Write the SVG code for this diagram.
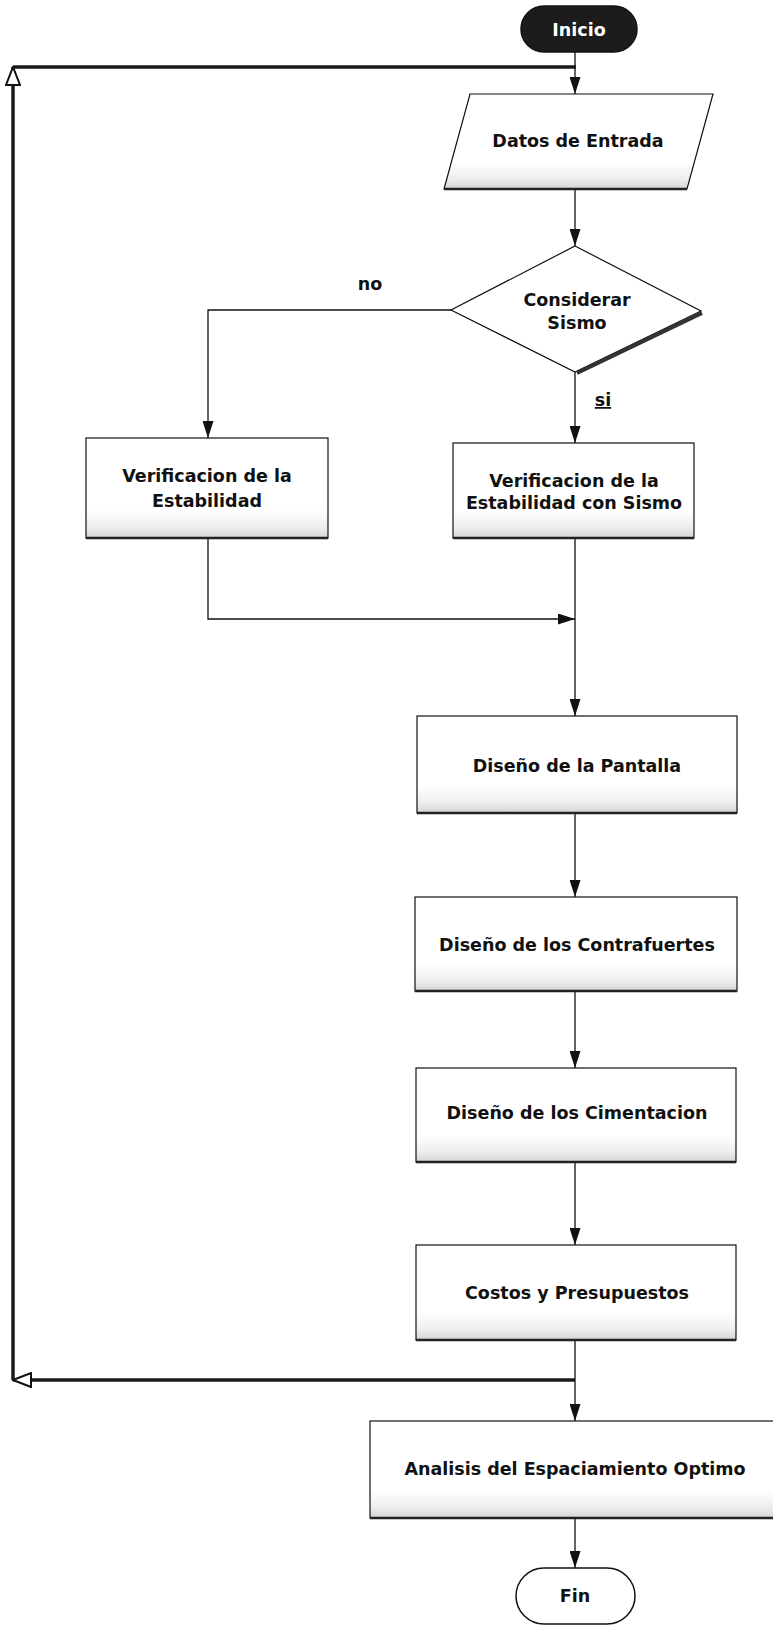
<svg xmlns="http://www.w3.org/2000/svg" width="773" height="1645" viewBox="0 0 773 1645">
<style>
  .lbl { font-family: "DejaVu Sans", Verdana, sans-serif; font-weight: bold; font-size: 17.5px; fill: #111; text-anchor: middle; }
  .box { fill: url(#scan); stroke: #111; stroke-width: 1.2; }
  .base { stroke: #222; stroke-width: 2.5; fill: none; }
  .edge { stroke: #111; stroke-width: 1.3; fill: none; }
  .loop { stroke: #1a1a1a; stroke-width: 3.5; fill: none; }
</style>
<defs>
  <linearGradient id="scan" x1="0" y1="0" x2="0" y2="1">
    <stop offset="0" stop-color="#ffffff"/>
    <stop offset="0.72" stop-color="#ffffff"/>
    <stop offset="0.9" stop-color="#ececec"/>
    <stop offset="1" stop-color="#d4d4d4"/>
  </linearGradient>
  <marker id="arr" viewBox="0 0 17 11" refX="17" refY="5.5" markerWidth="17" markerHeight="11" markerUnits="userSpaceOnUse" orient="auto">
    <path d="M0,0 L17,5.5 L0,11 z" fill="#111"/>
  </marker>
  <marker id="open" viewBox="0 0 20 16" refX="19" refY="8" markerWidth="20" markerHeight="16" markerUnits="userSpaceOnUse" orient="auto">
    <path d="M1,1 L19,8 L1,15 z" fill="#fff" stroke="#111" stroke-width="2"/>
  </marker>
</defs>
<rect width="773" height="1645" fill="#fff"/>

<g id="connectors">
  <line class="edge" x1="575" y1="52" x2="575" y2="94" marker-end="url(#arr)"/>
  <line class="edge" x1="575" y1="189" x2="575" y2="246" marker-end="url(#arr)"/>
  <polyline class="edge" points="451,310 208,310 208,438" marker-end="url(#arr)"/>
  <line class="edge" x1="575" y1="372" x2="575" y2="443" marker-end="url(#arr)"/>
  <polyline class="edge" points="208,538 208,619 575,619" marker-end="url(#arr)"/>
  <line class="edge" x1="575" y1="538" x2="575" y2="716" marker-end="url(#arr)"/>
  <line class="edge" x1="575" y1="813" x2="575" y2="897" marker-end="url(#arr)"/>
  <line class="edge" x1="575" y1="991" x2="575" y2="1068" marker-end="url(#arr)"/>
  <line class="edge" x1="575" y1="1162" x2="575" y2="1245" marker-end="url(#arr)"/>
  <line class="edge" x1="575" y1="1340" x2="575" y2="1421" marker-end="url(#arr)"/>
  <line class="edge" x1="575" y1="1518" x2="575" y2="1568" marker-end="url(#arr)"/>
  <line class="loop" x1="575" y1="1380" x2="13" y2="1380" marker-end="url(#open)"/>
  <line class="loop" x1="13" y1="1380" x2="13" y2="67" marker-end="url(#open)"/>
  <line class="loop" x1="13" y1="67" x2="576" y2="67"/>
  <text class="lbl" x="370" y="290">no</text>
  <text class="lbl" x="603" y="406" text-decoration="underline">si</text>
</g>

<g id="inicio">
  <rect x="521" y="6" width="116" height="46" rx="23" ry="23" fill="#1c1c1c" stroke="#111" stroke-width="1.5"/>
  <text class="lbl" x="579" y="36" style="fill:#fff">Inicio</text>
</g>

<g id="datos">
  <polygon points="470,94 713,94 687,189 444,189" class="box"/>
  <line class="base" x1="444" y1="189" x2="687" y2="189"/>
  <text class="lbl" x="578" y="147">Datos de Entrada</text>
</g>

<g id="decision">
  <polygon points="575,246 701,311 575,372 451,310" fill="#fff" stroke="#111" stroke-width="1.2"/>
  <line x1="702" y1="313" x2="577" y2="373" stroke="#333" stroke-width="4"/>
  <text class="lbl" x="577" y="306">Considerar</text>
  <text class="lbl" x="577" y="329">Sismo</text>
</g>

<g id="verif">
  <rect x="86" y="438" width="242" height="100" class="box"/>
  <line class="base" x1="86" y1="538" x2="328" y2="538"/>
  <text class="lbl" x="207" y="482">Verificacion de la</text>
  <text class="lbl" x="207" y="507">Estabilidad</text>
</g>

<g id="verif-sismo">
  <rect x="453" y="443" width="241" height="95" class="box"/>
  <line class="base" x1="453" y1="538" x2="694" y2="538"/>
  <text class="lbl" x="574" y="487">Verificacion de la</text>
  <text class="lbl" x="574" y="509">Estabilidad con Sismo</text>
</g>

<g id="pantalla">
  <rect x="417" y="716" width="320" height="97" class="box"/>
  <line class="base" x1="417" y1="813" x2="737" y2="813"/>
  <text class="lbl" x="577" y="772">Diseño de la Pantalla</text>
</g>

<g id="contrafuertes">
  <rect x="415" y="897" width="322" height="94" class="box"/>
  <line class="base" x1="415" y1="991" x2="737" y2="991"/>
  <text class="lbl" x="577" y="951">Diseño de los Contrafuertes</text>
</g>

<g id="cimentacion">
  <rect x="416" y="1068" width="320" height="94" class="box"/>
  <line class="base" x1="416" y1="1162" x2="736" y2="1162"/>
  <text class="lbl" x="577" y="1119">Diseño de los Cimentacion</text>
</g>

<g id="costos">
  <rect x="416" y="1245" width="320" height="95" class="box"/>
  <line class="base" x1="416" y1="1340" x2="736" y2="1340"/>
  <text class="lbl" x="577" y="1299">Costos y Presupuestos</text>
</g>

<g id="analisis">
  <rect x="370" y="1421" width="410" height="97" class="box"/>
  <line class="base" x1="370" y1="1518" x2="773" y2="1518"/>
  <text class="lbl" x="575" y="1475">Analisis del Espaciamiento Optimo</text>
</g>

<g id="fin">
  <rect x="516" y="1568" width="119" height="56" rx="28" ry="28" fill="#fff" stroke="#111" stroke-width="1.5"/>
  <text class="lbl" x="575" y="1602">Fin</text>
</g>
</svg>
